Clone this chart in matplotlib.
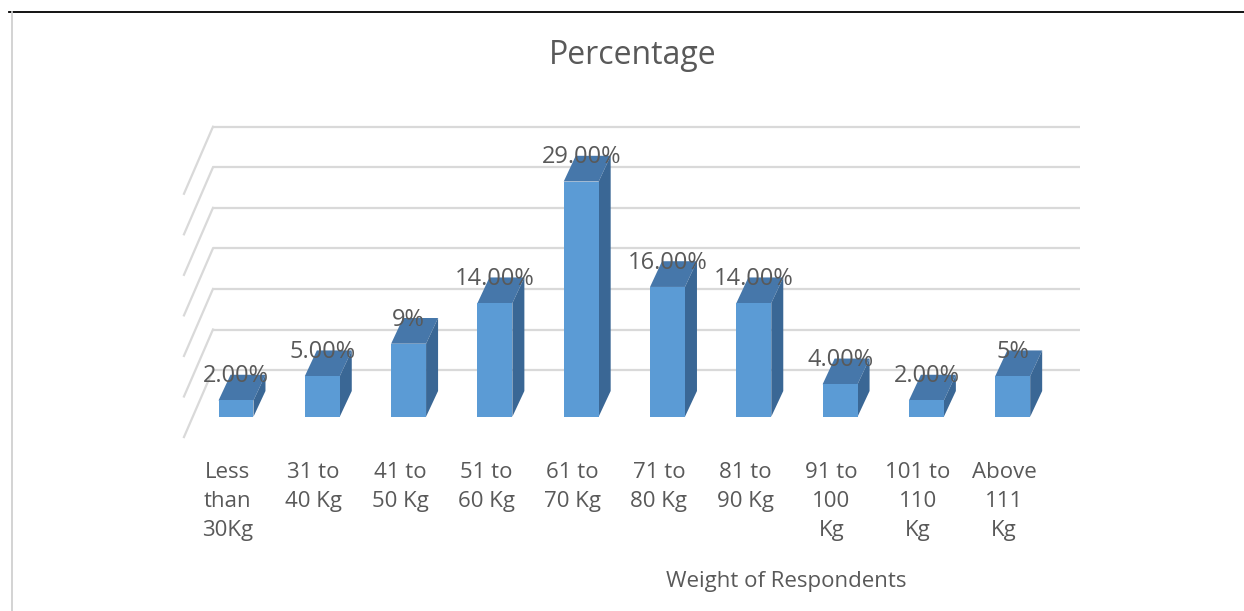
import numpy as np
import matplotlib
matplotlib.use('Agg')
import matplotlib.pyplot as plt
from matplotlib.patches import Polygon
from matplotlib.lines import Line2D

categories = ['Less\nthan\n30Kg', '31 to\n40 Kg', '41 to\n50 Kg', '51 to\n60 Kg',
              '61 to\n70 Kg', '71 to\n80 Kg', '81 to\n90 Kg', '91 to\n100\nKg',
              '101 to\n110\nKg', 'Above\n111\nKg']
percent = [2, 5, 9, 14, 29, 16, 14, 4, 2, 5]
decimals = [2, 2, 0, 2, 2, 2, 2, 2, 2, 0]
grid_values = [5, 10, 15, 20, 25, 30, 35]

FRONT = '#5B9BD5'
TOP = '#4677AA'
SIDE = '#3A6795'
GRID = '#D9D9D9'
TEXT = '#595959'

plt.rcParams['font.family'] = ['Open Sans', 'DejaVu Sans']

W, H = 1244, 611
fig = plt.figure(figsize=(W / 100, H / 100), dpi=100)
ax = fig.add_axes([0, 0, 1, 1])

# pixel layout of the category axis and value axis
x0, step = 236, 86.3
y0, unit = 416.7, 8.11
ax.set_xlim(-x0 / step, (W - x0) / step)
ax.set_ylim((y0 - H) / unit, y0 / unit)
ax.axis('off')

bar_w = 0.405
depth_x, depth_y = 0.139, 3.17      # offset of the bar's back face
wall_dy = 0.75                      # back wall sits a little above the bar floor
wall_left, wall_right = -0.267, 9.78
side_dx, side_dy = -0.336, -8.26

# back wall and side wall gridlines
for g in grid_values:
    yb = g + wall_dy
    ax.plot([wall_left, wall_right], [yb, yb], color=GRID, lw=1.6, zorder=1,
            solid_capstyle='butt')
    ax.plot([wall_left + side_dx, wall_left], [yb + side_dy, yb], color=GRID,
            lw=1.6, zorder=1)

x = np.arange(len(categories))
bars = ax.bar(x, percent, width=bar_w, color=FRONT, zorder=3)

for xi, v in zip(x, percent):
    l, r = xi - bar_w / 2, xi + bar_w / 2
    top = [(l, v), (r, v), (r + depth_x, v + depth_y), (l + depth_x, v + depth_y)]
    side = [(r, 0), (r + depth_x, depth_y), (r + depth_x, v + depth_y), (r, v)]
    ax.add_patch(Polygon(top, closed=True, fc=TOP, ec='none', zorder=2.9))
    ax.add_patch(Polygon(side, closed=True, fc=SIDE, ec='none', zorder=2.9))

# value labels sit at the back edge of each bar top
for xi, v, d in zip(x, percent, decimals):
    ax.text(xi, v + depth_y - 0.2, f'{v:.{d}f}%', ha='center', va='center',
            fontsize=17, color=TEXT, zorder=5)

# category labels under the bars
for xi, lab in zip(x, categories):
    ax.text(xi - 0.1, -5.6, lab, ha='center', va='top', fontsize=16,
            color=TEXT, linespacing=1.5, zorder=5)

fig.text(633 / W, 1 - 56 / H, 'Percentage', ha='center', va='center',
         fontsize=23, color=TEXT)
fig.text(786 / W, 1 - 581 / H, 'Weight of Respondents', ha='center',
         va='center', fontsize=16, color=TEXT)

# chart frame edges
fig.add_artist(Line2D([9 / W, 1], [1 - 11.5 / H, 1 - 11.5 / H],
                      transform=fig.transFigure, color='black', lw=1.3))
fig.add_artist(Line2D([11.5 / W, 11.5 / W], [0, 1 - 12 / H],
                      transform=fig.transFigure, color='#D0D0D0', lw=1.3))

fig.savefig('out.png', dpi=100)
